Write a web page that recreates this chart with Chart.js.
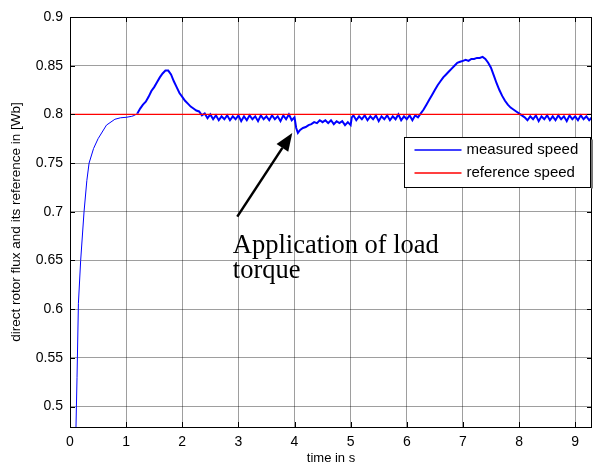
<!DOCTYPE html>
<html>
<head>
<meta charset="utf-8">
<script src="https://cdn.jsdelivr.net/npm/chart.js@4.4.1/dist/chart.umd.min.js"></script>
<style>
    html, body { margin: 0; padding: 0; background: #fff; }
</style>
</head>
<body>
<canvas id="fluxChart" width="609" height="470"></canvas>
<script>
// Data
const measuredTime = [
    0, 0.09, 0.107, 0.125, 0.15, 0.19, 0.25, 0.3, 0.34, 0.42, 0.5, 0.65, 0.8, 0.9, 1.0,
    1.1, 1.15, 1.2, 1.25, 1.3, 1.35, 1.4, 1.45, 1.5, 1.55, 1.6, 1.65, 1.7, 1.75,
    1.8, 1.85, 1.9, 1.95, 2.0, 2.05, 2.1, 2.15, 2.2, 2.25, 2.3, 2.35, 2.4, 2.45,
    2.5, 2.55, 2.6, 2.65, 2.7, 2.75, 2.8, 2.85, 2.9, 2.95, 3.0, 3.05, 3.1, 3.15,
    3.2, 3.25, 3.3, 3.35, 3.4, 3.45, 3.5, 3.55, 3.6, 3.65, 3.7, 3.75, 3.8, 3.85,
    3.9, 3.95, 4.0, 4.03, 4.06, 4.1, 4.15, 4.2, 4.25, 4.3, 4.35, 4.4, 4.45, 4.5,
    4.55, 4.6, 4.65, 4.7, 4.75, 4.8, 4.85, 4.9, 4.95, 5.0, 5.02, 5.05, 5.1, 5.15,
    5.2, 5.25, 5.3, 5.35, 5.4, 5.45, 5.5, 5.55, 5.6, 5.65, 5.7, 5.75, 5.8, 5.85,
    5.9, 5.95, 6.0, 6.05, 6.1, 6.15, 6.2, 6.25, 6.3, 6.35, 6.4, 6.45, 6.5, 6.55,
    6.6, 6.65, 6.7, 6.75, 6.8, 6.85, 6.9, 6.95, 7.0, 7.05, 7.1, 7.15, 7.2, 7.25,
    7.3, 7.35, 7.4, 7.45, 7.5, 7.55, 7.6, 7.65, 7.7, 7.75, 7.8, 7.85, 7.9, 7.95,
    8.0, 8.05, 8.1, 8.15, 8.2, 8.25, 8.3, 8.35, 8.4, 8.45, 8.5, 8.55, 8.6, 8.65,
    8.7, 8.75, 8.8, 8.85, 8.9, 8.95, 9.0, 9.05, 9.1, 9.15, 9.2, 9.25, 9.3
];
const measuredFlux = [
    0, 0.40, 0.48, 0.53, 0.606, 0.65, 0.70, 0.732, 0.75, 0.765, 0.775, 0.789, 0.795, 0.7965, 0.797,
    0.798, 0.799, 0.801, 0.806, 0.810, 0.813, 0.818, 0.824, 0.828, 0.833, 0.838, 0.842, 0.845, 0.845,
    0.841, 0.834, 0.828, 0.822, 0.818, 0.814, 0.811, 0.808, 0.806, 0.804, 0.803, 0.799, 0.801, 0.796,
    0.800, 0.795, 0.799, 0.794, 0.798, 0.795, 0.799, 0.794, 0.798, 0.795, 0.799, 0.793, 0.798, 0.794,
    0.799, 0.795, 0.798, 0.793, 0.799, 0.795, 0.798, 0.794, 0.799, 0.795, 0.798, 0.793, 0.799, 0.795,
    0.800, 0.794, 0.797, 0.786, 0.781, 0.784, 0.786, 0.787, 0.789, 0.790, 0.792, 0.791, 0.794, 0.792,
    0.794, 0.791, 0.794, 0.790, 0.793, 0.791, 0.793, 0.789, 0.792, 0.789, 0.797, 0.799, 0.794, 0.798,
    0.795, 0.799, 0.794, 0.798, 0.795, 0.799, 0.793, 0.798, 0.795, 0.799, 0.794, 0.798, 0.795, 0.800,
    0.794, 0.798, 0.795, 0.799, 0.794, 0.799, 0.797, 0.801, 0.805, 0.810, 0.815, 0.820, 0.825, 0.830,
    0.834, 0.838, 0.841, 0.844, 0.847, 0.850, 0.853, 0.854, 0.855, 0.856, 0.855, 0.857, 0.857, 0.858,
    0.858, 0.859, 0.857, 0.853, 0.848, 0.840, 0.832, 0.825, 0.819, 0.814, 0.810, 0.807, 0.805, 0.803,
    0.801, 0.799, 0.797, 0.794, 0.798, 0.795, 0.799, 0.793, 0.798, 0.795, 0.799, 0.794, 0.798, 0.794,
    0.799, 0.795, 0.798, 0.793, 0.799, 0.795, 0.798, 0.794, 0.799, 0.795, 0.798, 0.794, 0.797
];
const referenceTime = [0, 9.3];
const referenceFlux = [0.8, 0.8];

const xTicks = [0, 1, 2, 3, 4, 5, 6, 7, 8, 9];
const yTicks = [0.5, 0.55, 0.6, 0.65, 0.7, 0.75, 0.8, 0.85, 0.9];
const seriesNames = ["measured speed", "reference speed"];
const seriesColors = ["rgb(0, 0, 255)", "rgb(255, 0, 0)"];

// Annotation (placed in data units)
const note = {
    lines: ["Application of load", "torque"],
    textAt: [2.9, 0.665],
    lineStep: 0.0255,
    arrowFrom: [2.98, 0.695],
    arrowTo: [3.96, 0.781],
};

const toPoints = (xs, ys) => xs.map((x, i) => ({ x: x, y: ys[i] }));

// MATLAB-like box, inner ticks, legend and arrow note
const matlabDecor = {
    id: "matlabDecor",
    afterDraw(chart) {
        const { ctx, chartArea: a, scales } = chart;
        const xs = scales.x;
        const ys = scales.y;
        ctx.save();

        // frame
        ctx.strokeStyle = "#000";
        ctx.lineWidth = 1;
        ctx.strokeRect(Math.round(a.left) + 0.5, Math.round(a.top) + 0.5,
            Math.round(a.right - a.left) - 1, Math.round(a.bottom - a.top));

        // inner tick marks
        const tl = 5;
        ctx.beginPath();
        xTicks.forEach((t) => {
            const px = Math.round(xs.getPixelForValue(t)) + 0.5;
            ctx.moveTo(px, a.bottom);
            ctx.lineTo(px, a.bottom - tl);
            ctx.moveTo(px, a.top);
            ctx.lineTo(px, a.top + tl);
        });
        yTicks.forEach((t) => {
            const py = Math.round(ys.getPixelForValue(t)) + 0.5;
            ctx.moveTo(a.left, py);
            ctx.lineTo(a.left + tl, py);
            ctx.moveTo(a.right, py);
            ctx.lineTo(a.right - tl, py);
        });
        ctx.stroke();

        // legend box
        const lw = 186, lh = 50;
        const lx = Math.round(a.right) - lw - 1.5;
        const ly = Math.round(a.top) + 120.5;
        ctx.fillStyle = "#fff";
        ctx.fillRect(lx, ly, lw, lh);
        ctx.strokeStyle = "#000";
        ctx.lineWidth = 1;
        ctx.strokeRect(lx, ly, lw, lh);
        ctx.strokeStyle = "#777";
        ctx.lineWidth = 2;
        ctx.beginPath();
        ctx.moveTo(lx + lw + 1.5, ly + 2);
        ctx.lineTo(lx + lw + 1.5, ly + lh + 1);
        ctx.stroke();
        ctx.font = "15px 'Liberation Sans', Arial, sans-serif";
        ctx.textBaseline = "middle";
        ctx.textAlign = "left";
        seriesNames.forEach((name, i) => {
            const yy = Math.round(ly + 12 + i * 23.5);
            ctx.strokeStyle = seriesColors[i];
            ctx.lineWidth = 1.5;
            ctx.beginPath();
            ctx.moveTo(lx + 10, yy);
            ctx.lineTo(lx + 57, yy);
            ctx.stroke();
            ctx.fillStyle = "#000";
            ctx.fillText(name, lx + 62, yy);
        });

        // arrow note
        const fx = xs.getPixelForValue(note.arrowFrom[0]);
        const fy = ys.getPixelForValue(note.arrowFrom[1]);
        const tx = xs.getPixelForValue(note.arrowTo[0]);
        const ty = ys.getPixelForValue(note.arrowTo[1]);
        const ang = Math.atan2(ty - fy, tx - fx);
        const head = 18, half = 7;
        const bx = tx - head * Math.cos(ang);
        const by = ty - head * Math.sin(ang);
        ctx.strokeStyle = "#000";
        ctx.lineWidth = 2.5;
        ctx.beginPath();
        ctx.moveTo(fx, fy);
        ctx.lineTo(bx, by);
        ctx.stroke();
        ctx.fillStyle = "#000";
        ctx.beginPath();
        ctx.moveTo(tx, ty);
        ctx.lineTo(bx + half * Math.sin(ang), by - half * Math.cos(ang));
        ctx.lineTo(bx - half * Math.sin(ang), by + half * Math.cos(ang));
        ctx.closePath();
        ctx.fill();

        ctx.font = "26.5px 'Liberation Serif', 'Times New Roman', serif";
        ctx.textBaseline = "middle";
        note.lines.forEach((line, i) => {
            ctx.fillText(line,
                xs.getPixelForValue(note.textAt[0]),
                ys.getPixelForValue(note.textAt[1] - i * note.lineStep));
        });

        ctx.restore();
    },
};

const ctx = document.getElementById("fluxChart");

new Chart(ctx, {
    type: "line",
    data: {
        datasets: [
            {
                label: seriesNames[0],
                data: toPoints(measuredTime, measuredFlux),
                borderColor: seriesColors[0],
                borderWidth: 1,
                segment: {
                    // the noisy part of the trace reads thicker in the picture
                    borderWidth: (c) => (c.p0.parsed.x < 1.2 ? 1 : 2),
                },
                pointRadius: 0,
                tension: 0,
                order: 1,
            },
            {
                label: seriesNames[1],
                data: toPoints(referenceTime, referenceFlux),
                borderColor: seriesColors[1],
                borderWidth: 1.2,
                pointRadius: 0,
                order: 0,
            },
        ],
    },
    options: {
        responsive: false,
        animation: false,
        events: [],
        layout: {
            padding: { top: 17, right: 17, left: 0, bottom: 0 },
        },
        scales: {
            x: {
                type: "linear",
                min: 0,
                max: 9.3,
                afterBuildTicks: (scale) => {
                    scale.ticks = xTicks.map((v) => ({ value: v }));
                },
                afterFit: (scale) => {
                    scale.height = 43;
                },
                ticks: {
                    color: "#000",
                    padding: 7,
                    maxRotation: 0,
                    autoSkip: false,
                    font: { family: "'Liberation Sans', Arial, sans-serif", size: 14 },
                    callback: (v) => String(v),
                },
                grid: {
                    color: "rgba(0, 0, 0, 0.38)",
                    lineWidth: 1,
                    drawTicks: false,
                },
                border: { display: false },
                title: {
                    display: true,
                    text: "time in s",
                    color: "#000",
                    padding: { top: 0, bottom: 4 },
                    font: { family: "'Liberation Sans', Arial, sans-serif", size: 13 },
                },
            },
            y: {
                type: "linear",
                min: 0.479,
                max: 0.9,
                afterBuildTicks: (scale) => {
                    scale.ticks = yTicks.map((v) => ({ value: v }));
                },
                afterFit: (scale) => {
                    scale.width = 70;
                },
                ticks: {
                    color: "#000",
                    padding: 7,
                    autoSkip: false,
                    font: { family: "'Liberation Sans', Arial, sans-serif", size: 14 },
                    callback: (v) => String(+v.toFixed(2)),
                },
                grid: {
                    color: "rgba(0, 0, 0, 0.38)",
                    lineWidth: 1,
                    drawTicks: false,
                },
                border: { display: false },
                title: {
                    display: true,
                    text: "direct rotor flux and its reference in [Wb]",
                    color: "#000",
                    padding: { top: 8, bottom: 0 },
                    font: { family: "'Liberation Sans', Arial, sans-serif", size: 13.5 },
                },
            },
        },
        plugins: {
            legend: { display: false },
            tooltip: { enabled: false },
        },
    },
    plugins: [matlabDecor],
});
</script>
</body>
</html>
